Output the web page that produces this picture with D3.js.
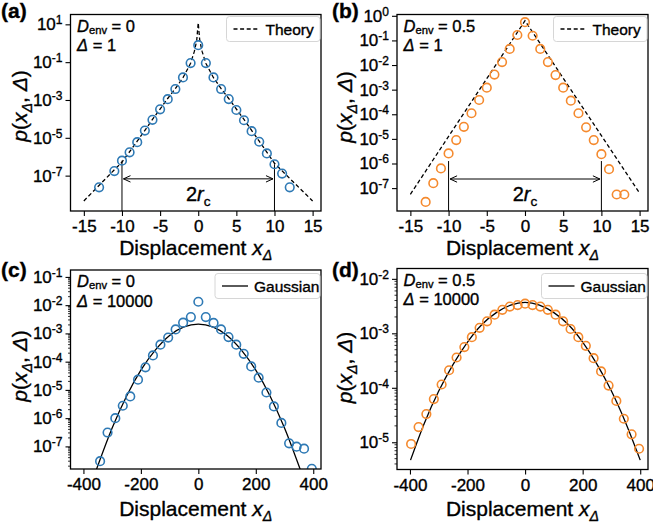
<!DOCTYPE html>
<html><head><meta charset="utf-8">
<script src="https://cdn.jsdelivr.net/npm/d3@7"></script>
<style>
body{margin:0;background:#fff;}
svg text{font-family:"Liberation Sans",Arial,Helvetica,sans-serif;fill:#000;stroke:#000;stroke-width:0.35px;}
</style></head><body>
<svg id="chart" width="653" height="525"></svg>
<script>
// ---------------- DATA ----------------
// Panel (a): D_env = 0, Δ = 1
const xA = [-13,-11,-10,-9,-8,-7,-6,-5,-4,-3,-2,-1,0,1,2,3,4,5,6,7,8,9,10,11,12];
const pA = [2.4e-8,1.74e-7,6.2e-7,1.7e-6,5.9e-6,2.4e-5,8.9e-5,3.2e-4,1.1e-3,3.8e-3,1.55e-2,8.9e-2,0.79,
            8.9e-2,1.55e-2,3.8e-3,1.12e-3,2.95e-4,8.5e-5,2.24e-5,6.2e-6,1.5e-6,4.0e-7,1.29e-7,2.4e-8];
const theoryAx = [-15,-12,-10,-8,-6,-4,-3,-2,-1,-0.5,-0.2,0,0.2,0.5,1,2,3,4,6,8,10,12,15];
const theoryAp = [4.6e-9,7.9e-8,5.2e-7,6.6e-6,9.3e-5,1.2e-3,4.0e-3,1.5e-2,8.7e-2,0.38,1.4,12,
                  1.4,0.38,8.7e-2,1.5e-2,4.0e-3,1.2e-3,9.3e-5,6.6e-6,4.5e-7,7.1e-8,4.6e-9];
// Panel (b): D_env = 0.5, Δ = 1
const xB = [-13,-12,-11,-10,-9,-8,-7,-6,-5,-4,-3,-2,-1,0,1,2,3,4,5,6,7,8,9,10,11,12,13];
const pB = [2.75e-8,1.58e-7,6.3e-7,2.57e-6,8.9e-6,3.1e-5,1.1e-4,3.8e-4,1.2e-3,4.1e-3,1.32e-2,4.5e-2,0.166,0.55,
            0.155,4.5e-2,1.32e-2,3.9e-3,1.2e-3,3.55e-4,1.1e-4,2.95e-5,8.9e-6,2.4e-6,5.9e-7,5.5e-8,5.5e-8];
const theoryBx = [-15,0,15];
const theoryBp = [5.6e-8,0.63,6.3e-8];
// Panel (c): D_env = 0, Δ = 10000
const xC = [-342,-316,-289,-263,-237,-210,-184,-158,-132,-105,-79,-53,-26,0,26,53,79,105,132,158,184,210,237,263,289,316,342,368,395];
const pC = [3.0e-8,3.1e-7,1.0e-6,2.75e-6,5.9e-6,2.3e-5,6.3e-5,1.66e-4,4.0e-4,7.1e-4,1.38e-3,2.4e-3,3.8e-3,1.32e-2,
            3.8e-3,2.35e-3,1.38e-3,7.4e-4,4.0e-4,1.9e-4,6.8e-5,2.7e-5,8.1e-6,2.6e-6,6.8e-7,1.29e-7,9.8e-8,8.3e-8,1.62e-8];
const gaussCx = [-355,-300,-250,-200,-150,-100,-50,0,50,100,150,200,250,300,355];
const gaussCp = [1.5e-8,4.5e-7,6.0e-6,5.0e-5,2.57e-4,8.5e-4,1.7e-3,2.14e-3,1.7e-3,8.5e-4,2.57e-4,5.0e-5,6.0e-6,4.5e-7,1.5e-8];
// Panel (d): D_env = 0.5, Δ = 10000
const xD = [-396,-370,-343,-317,-290,-264,-238,-211,-185,-158,-132,-106,-79,-53,-26,0,26,53,79,106,132,158,185,211,238,264,290,317,343,370,396];
const pD = [9.3e-6,1.9e-5,3.3e-5,6.2e-5,1.15e-4,2.1e-4,3.6e-4,5.6e-4,8.5e-4,1.26e-3,1.66e-3,2.2e-3,2.7e-3,3.1e-3,3.3e-3,3.5e-3,
            3.3e-3,3.1e-3,2.7e-3,2.2e-3,1.66e-3,1.2e-3,8.5e-4,5.9e-4,3.5e-4,2.0e-4,1.1e-4,5.75e-5,2.7e-5,1.4e-5,7.6e-6];
const gaussDx = [-398,-350,-300,-250,-200,-150,-100,-50,0,50,100,150,200,250,300,350,400];
const gaussDp = [4.7e-6,2.24e-5,8.7e-5,2.7e-4,6.9e-4,1.45e-3,2.4e-3,3.3e-3,3.7e-3,3.3e-3,2.4e-3,1.45e-3,6.9e-4,2.7e-4,8.7e-5,2.24e-5,4.7e-6];

// tick values
const xTicksSmall = [-15,-10,-5,0,5,10,15];
const xTicksLarge = [-400,-200,0,200,400];
const yTicksA = [1e1,1e-1,1e-3,1e-5,1e-7];
const yTicksB = [1e0,1e-1,1e-2,1e-3,1e-4,1e-5,1e-6,1e-7];
const yTicksC = [1e-1,1e-2,1e-3,1e-4,1e-5,1e-6,1e-7];
const yTicksD = [1e-2,1e-3,1e-4,1e-5];

const BLUE = '#2f7ab5', ORANGE = '#f58a2e';

// ---------------- DRAW ----------------
const svg = d3.select('#chart');
svg.append('rect').attr('width',653).attr('height',525).attr('fill','#fff');
const defs = svg.append('defs');
defs.append('marker').attr('id','ah').attr('viewBox','-9 -5 10 10').attr('refX',0).attr('refY',0)
  .attr('markerWidth',10).attr('markerHeight',10).attr('markerUnits','userSpaceOnUse').attr('orient','auto-start-reverse')
  .append('path').attr('d','M-7,-3.2 L0,0 L-7,3.2').attr('fill','none').attr('stroke','#000').attr('stroke-width',1);

function rich(sel, parts, size, subFrac){
  const sf = subFrac===undefined ? 0.25 : subFrac;
  let shift = 0;
  parts.forEach(p=>{
    const ts = sel.append('tspan').text(p.t);
    if(p.it) ts.attr('font-style','italic');
    if(p.sub){ ts.attr('font-size',(size*0.68)+'px'); const d = size*sf - shift; ts.attr('dy',d); shift = size*sf; }
    else { if(shift!==0){ ts.attr('dy',-shift); shift=0; } }
  });
  return sel;
}

function supLabel(d){ return Math.round(Math.log10(d)); }

function drawPanel(cfg){
  const b = cfg.box;
  const xs = d3.scaleLinear().domain(cfg.xDomain).range([b.x0,b.x1]);
  const ys = d3.scaleLog().domain(cfg.yDomain).range([b.y1,b.y0]);
  const g = svg.append('g');
  const clipId = 'clip'+cfg.id;
  defs.append('clipPath').attr('id',clipId).append('rect')
    .attr('x',b.x0).attr('y',b.y0).attr('width',b.x1-b.x0).attr('height',b.y1-b.y0);

  if(cfg.minor){
    const lo = Math.floor(Math.log10(cfg.yDomain[0])), hi = Math.ceil(Math.log10(cfg.yDomain[1]));
    const mins = [];
    for(let e=lo;e<=hi;e++) for(let k=2;k<=9;k++){ const v=k*Math.pow(10,e); if(v>=cfg.yDomain[0]&&v<=cfg.yDomain[1]) mins.push(v); }
    g.selectAll('.mt').data(mins).enter().append('line')
      .attr('x1',b.x0).attr('x2',b.x0-2.5).attr('y1',d=>ys(d)).attr('y2',d=>ys(d))
      .attr('stroke','#000').attr('stroke-width',0.8);
  }
  const xa = g.append('g').attr('transform',`translate(0,${b.y1})`)
    .call(d3.axisBottom(xs).tickValues(cfg.xTicks).tickSize(5).tickPadding(4).tickFormat(d=>String(d)));
  xa.select('.domain').remove();
  xa.selectAll('.tick line').attr('stroke-width',1.1);
  xa.selectAll('.tick text').attr('font-size','17px').attr('font-family','"Liberation Sans",Arial,sans-serif');
  const ya = g.append('g').attr('transform',`translate(${b.x0},0)`)
    .call(d3.axisLeft(ys).tickValues(cfg.yTicks).tickSize(5).tickPadding(3).tickFormat(''));
  ya.select('.domain').remove();
  ya.selectAll('.tick line').attr('stroke-width',1.1);
  ya.selectAll('.tick text').each(function(d){
    const t = d3.select(this).attr('font-size','17px').attr('font-family','"Liberation Sans",Arial,sans-serif');
    t.text('');
    t.append('tspan').text('10');
    t.append('tspan').attr('dy','-0.5em').attr('font-size','12px').text(String(supLabel(d)));
  });

  const lineGen = d3.line().x(d=>xs(d[0])).y(d=>ys(d[1])).curve(cfg.curve||d3.curveLinear);
  g.append('path').datum(d3.zip(cfg.lx,cfg.lp)).attr('clip-path',`url(#${clipId})`)
    .attr('d',lineGen).attr('fill','none').attr('stroke','#000').attr('stroke-width',1.3)
    .attr('stroke-dasharray',cfg.dashed?'4,2.6':null);

  if(cfg.rc){
    cfg.rc.tops.forEach((tp,i)=>{
      const xv = i===0?-10:10;
      g.append('line').attr('x1',xs(xv)).attr('x2',xs(xv)).attr('y1',ys(tp)).attr('y2',b.y1)
        .attr('stroke','#000').attr('stroke-width',1);
    });
    const ay = ys(cfg.rc.arrowY);
    g.append('line').attr('x1',xs(-10)+1.5).attr('x2',xs(10)-1.5).attr('y1',ay).attr('y2',ay)
      .attr('stroke','#000').attr('stroke-width',1)
      .attr('marker-start','url(#ah)').attr('marker-end','url(#ah)');
    const lt = g.append('text').attr('x',xs(0)).attr('y',ay+22).attr('text-anchor','middle').attr('font-size','20px');
    rich(lt,[{t:'2'},{t:'r',it:true},{t:'c',sub:true}],20);
  }

  g.append('g').attr('clip-path',`url(#${clipId})`).selectAll('circle').data(d3.zip(cfg.px,cfg.pp)).enter()
    .append('circle').attr('cx',d=>xs(d[0])).attr('cy',d=>ys(d[1])).attr('r',4.3)
    .attr('fill','none').attr('stroke',cfg.color).attr('stroke-width',1.6);

  g.append('rect').attr('x',b.x0).attr('y',b.y0).attr('width',b.x1-b.x0).attr('height',b.y1-b.y0)
    .attr('fill','none').attr('stroke','#000').attr('stroke-width',1.3);

  const L = cfg.legend;
  g.append('rect').attr('x',L.x).attr('y',L.y).attr('width',b.x1-1-L.x).attr('height',25).attr('rx',3)
    .attr('fill','#fff').attr('stroke','#d6d6d6').attr('stroke-width',1);
  g.append('line').attr('x1',L.x+7).attr('x2',L.x+33).attr('y1',L.y+12.5).attr('y2',L.y+12.5)
    .attr('stroke','#000').attr('stroke-width',1.3).attr('stroke-dasharray',cfg.dashed?'4,2.6':null);
  g.append('text').attr('x',L.x+39).attr('y',L.y+18).attr('font-size','15.5px').text(L.text);

  const t1 = g.append('text').attr('x',b.x0+6.5).attr('y',b.y0+17).attr('font-size','16.5px');
  rich(t1,[{t:'D',it:true},{t:'env',sub:true},{t:' = '+cfg.denv}],16.5,0.15);
  const t2 = g.append('text').attr('x',b.x0+6.5).attr('y',b.y0+36.8).attr('font-size','16.5px');
  rich(t2,[{t:'Δ',it:true},{t:' = '+cfg.delta}],16.5);

  const xl = g.append('text').attr('x',(b.x0+b.x1)/2).attr('y',cfg.xlabY).attr('text-anchor','middle').attr('font-size','21px');
  rich(xl,[{t:'Displacement '},{t:'x',it:true},{t:'Δ',it:true,sub:true}],21);
  const yl = g.append('text').attr('transform',`translate(${cfg.ylab[0]},${cfg.ylab[1]}) rotate(-90)`)
    .attr('text-anchor','middle').attr('font-size','21px');
  rich(yl,[{t:'p',it:true},{t:'('},{t:'x',it:true},{t:'Δ',it:true,sub:true},{t:', '},{t:'Δ',it:true},{t:')'}],21);
  g.append('text').attr('x',cfg.plab[0]).attr('y',cfg.plab[1]).attr('font-size','21px').attr('font-weight','bold').text(cfg.tag);
}

drawPanel({id:'a',tag:'(a)',box:{x0:70.5,x1:321,y0:14.5,y1:211},xDomain:[-16.75,16.1],yDomain:[Math.pow(10,-8.87),Math.pow(10,1.52)],
  xTicks:xTicksSmall,yTicks:yTicksA,px:xA,pp:pA,lx:theoryAx,lp:theoryAp,dashed:true,color:BLUE,
  rc:{tops:[6.2e-7,4.0e-7],arrowY:Math.pow(10,-7.17)},legend:{x:226.5,y:16.5,text:'Theory'},denv:'0',delta:'1',
  xlabY:255,ylab:[27,106],plab:[1,18]});
drawPanel({id:'b',tag:'(b)',box:{x0:397,x1:648,y0:14.5,y1:211},xDomain:[-16.75,16.1],yDomain:[Math.pow(10,-7.93),Math.pow(10,0.053)],
  xTicks:xTicksSmall,yTicks:yTicksB,px:xB,pp:pB,lx:theoryBx,lp:theoryBp,dashed:true,color:ORANGE,
  rc:{tops:[Math.pow(10,-5.9),Math.pow(10,-5.9)],arrowY:Math.pow(10,-6.63)},legend:{x:553.5,y:16.5,text:'Theory'},denv:'0.5',delta:'1',
  xlabY:255,ylab:[352,107],plab:[332,18]});
drawPanel({id:'c',tag:'(c)',box:{x0:70.5,x1:321,y0:270,y1:469},xDomain:[-445,427],yDomain:[Math.pow(10,-7.8),Math.pow(10,-0.755)],
  xTicks:xTicksLarge,yTicks:yTicksC,minor:true,px:xC,pp:pC,lx:gaussCx,lp:gaussCp,dashed:false,color:BLUE,curve:d3.curveMonotoneX,
  legend:{x:215,y:273.5,text:'Gaussian'},denv:'0',delta:'10000',
  xlabY:515.5,ylab:[27,366],plab:[1,277]});
drawPanel({id:'d',tag:'(d)',box:{x0:397,x1:648,y0:268.5,y1:469.5},xDomain:[-445,427],yDomain:[Math.pow(10,-5.5),Math.pow(10,-1.81)],
  xTicks:xTicksLarge,yTicks:yTicksD,minor:true,px:xD,pp:pD,lx:gaussDx,lp:gaussDp,dashed:false,color:ORANGE,curve:d3.curveMonotoneX,
  legend:{x:541.5,y:273.5,text:'Gaussian'},denv:'0.5',delta:'10000',
  xlabY:515.5,ylab:[352,367.5],plab:[332,277]});
</script>
</body></html>
